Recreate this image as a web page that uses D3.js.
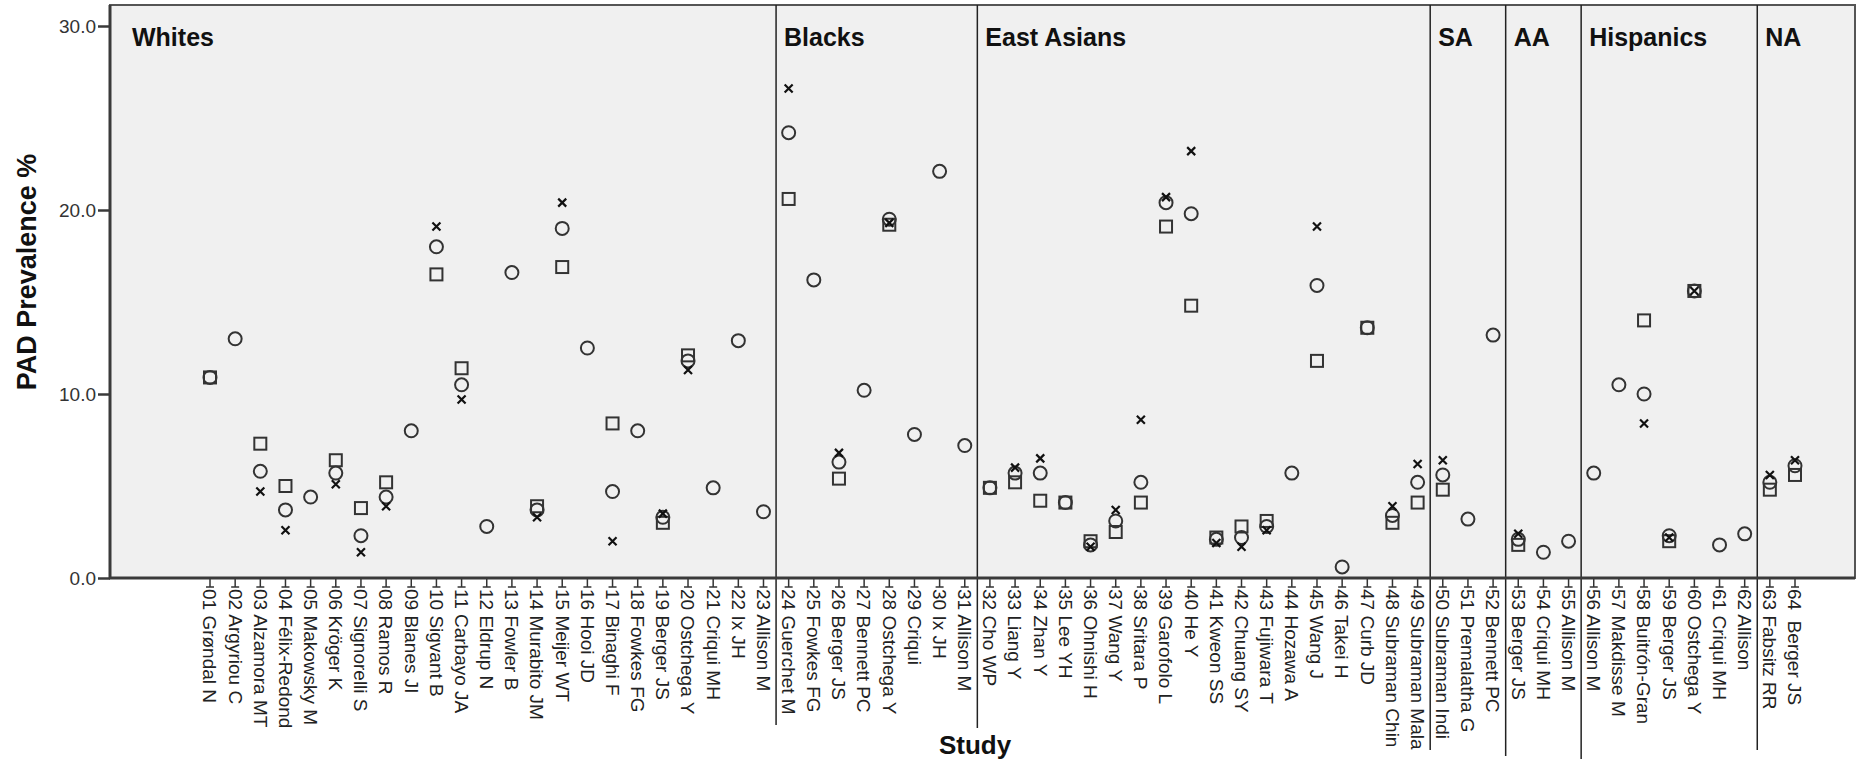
<!DOCTYPE html>
<html lang="en">
<head>
    <meta charset="UTF-8">
    <title>PAD Prevalence by Study</title>
    <script src="https://d3js.org/d3.v7.min.js"></script>
</head>

<style>
    body {
        margin: 0;
        padding: 0;
        background: #ffffff;
    }

    svg {
        display: block;
        font-family: "Liberation Sans", Arial, sans-serif;
    }
</style>

<body>
<div class="chart-container"></div>

<script>
  /** DATA */
  var studies = [
    '01 Grøndal N', '02 Argyriou C', '03 Alzamora MT', '04 Félix-Redond', '05 Makowsky M',
    '06 Kröger K', '07 Signorelli S', '08 Ramos R', '09 Blanes JI', '10 Sigvant B',
    '11 Carbayo JA', '12 Eldrup N', '13 Fowler B', '14 Murabito JM', '15 Meijer WT',
    '16 Hooi JD', '17 Binaghi F', '18 Fowkes FG', '19 Berger JS', '20 Ostchega Y',
    '21 Criqui MH', '22 Ix JH', '23 Allison M', '24 Guerchet M', '25 Fowkes FG',
    '26 Berger JS', '27 Bennett PC', '28 Ostchega Y', '29 Criqui', '30 Ix JH',
    '31 Allison M', '32 Cho WP', '33 Liang Y', '34 Zhan Y', '35 Lee YH',
    '36 Ohnishi H', '37 Wang Y', '38 Sritara P', '39 Garofolo L', '40 He Y',
    '41 Kweon SS', '42 Chuang SY', '43 Fujiwara T', '44 Hozawa A', '45 Wang J',
    '46 Takei H', '47 Curb JD', '48 Subraman Chin', '49 Subraman Mala', '50 Subraman Indi',
    '51 Premalatha G', '52 Bennett PC', '53 Berger JS', '54 Criqui MH', '55 Allison M',
    '56 Allison M', '57 Makdisse M', '58 Buitrón-Gran', '59 Berger JS', '60 Ostchega Y',
    '61 Criqui MH', '62 Allison', '63 Fabsitz RR', '64  Berger JS'
  ];

  /** panel groups: name and number of studies in each */
  var groupNames = ['Whites', 'Blacks', 'East Asians', 'SA', 'AA', 'Hispanics', 'NA'];
  var groupSizes = [23, 8, 18, 3, 3, 7, 2];

  var yTicks = [0, 10, 20, 30];

  /** three prevalence estimates per study (null = not reported) */
  var squareValues = [
    10.9, null, 7.3, 5.0, null, 6.4, 3.8, 5.2, null, 16.5,
    11.4, null, null, 3.9, 16.9, null, 8.4, null, 3.0, 12.1,
    null, null, null, 20.6, null, 5.4, null, 19.2, null, null,
    null, 4.9, 5.2, 4.2, 4.1, 2.0, 2.5, 4.1, 19.1, 14.8,
    2.2, 2.8, 3.1, null, 11.8, null, 13.6, 3.0, 4.1, 4.8,
    null, null, 1.8, null, null, null, null, 14.0, 2.0, 15.6,
    null, null, 4.8, 5.6
  ];
  var circleValues = [
    10.9, 13.0, 5.8, 3.7, 4.4, 5.7, 2.3, 4.4, 8.0, 18.0,
    10.5, 2.8, 16.6, 3.7, 19.0, 12.5, 4.7, 8.0, 3.3, 11.8,
    4.9, 12.9, 3.6, 24.2, 16.2, 6.3, 10.2, 19.5, 7.8, 22.1,
    7.2, 4.9, 5.7, 5.7, 4.1, 1.8, 3.1, 5.2, 20.4, 19.8,
    2.1, 2.2, 2.8, 5.7, 15.9, 0.6, 13.6, 3.4, 5.2, 5.6,
    3.2, 13.2, 2.1, 1.4, 2.0, 5.7, 10.5, 10.0, 2.3, 15.6,
    1.8, 2.4, 5.2, 6.1
  ];
  var crossValues = [
    null, null, 4.7, 2.6, null, 5.1, 1.4, 3.9, null, 19.1,
    9.7, null, null, 3.3, 20.4, null, 2.0, null, 3.5, 11.3,
    null, null, null, 26.6, null, 6.8, null, 19.3, null, null,
    null, null, 6.0, 6.5, null, 1.7, 3.7, 8.6, 20.7, 23.2,
    1.9, 1.7, 2.6, null, 19.1, null, null, 3.9, 6.2, 6.4,
    null, null, 2.4, null, null, null, null, 8.4, 2.2, 15.6,
    null, null, 5.6, 6.4
  ];

  /** LAYOUT */
  var width = 1865;
  var height = 763;
  var plotLeft = 110;
  var plotRight = 1855;
  var plotTop = 5;
  var plotBottom = 578;
  var markColor = '#333333';

  var svg_selection = d3.select('.chart-container')
    .append('svg')
    .attr('width', width)
    .attr('height', height);

  var xScale = d3.scalePoint()
    .domain(studies)
    .range([210, 1795]);

  var yScale = d3.scaleLinear()
    .domain([0, 30])
    .range([plotBottom, 26]);

  drawFrame();
  drawTickLabels();
  drawSeparators();
  drawMarks();
  drawAxisLines();
  drawTitles();

  /** FUNCTIONS **/
  function drawFrame() {
    svg_selection.append('rect')
      .attr('x', plotLeft)
      .attr('y', plotTop)
      .attr('width', plotRight - plotLeft)
      .attr('height', plotBottom - plotTop)
      .attr('fill', '#f0f0f0')
      .attr('stroke', '#555')
      .attr('stroke-width', 2);
  }

  function drawAxisLines() {
    /** y axis with d3 axis generator */
    var yAxis = d3.axisLeft(yScale)
      .tickValues(yTicks)
      .tickFormat(d3.format('.1f'))
      .tickSize(12)
      .tickPadding(2);

    var yAxis_selection = svg_selection.append('g')
      .attr('transform', 'translate(' + plotLeft + ',0)')
      .call(yAxis);
    yAxis_selection.select('.domain')
      .attr('d', 'M0,' + plotTop + 'V' + plotBottom)
      .attr('stroke', '#3a3a3a')
      .attr('stroke-width', 3);
    yAxis_selection.selectAll('.tick line')
      .attr('stroke', '#3a3a3a')
      .attr('stroke-width', 2.5);
    yAxis_selection.selectAll('.tick text')
      .attr('fill', '#333')
      .style('font-size', '19px');

    /** x axis baseline */
    svg_selection.append('line')
      .attr('x1', plotLeft - 1)
      .attr('x2', plotRight)
      .attr('y1', plotBottom)
      .attr('y2', plotBottom)
      .attr('stroke', '#3a3a3a')
      .attr('stroke-width', 3);
  }

  function drawTickLabels() {
    var tick_selection = svg_selection.append('g')
      .selectAll('g')
      .data(studies)
      .enter().append('g')
      .attr('transform', function (d) {
        return 'translate(' + xScale(d) + ',' + plotBottom + ')';
      });

    tick_selection.append('line')
      .attr('y1', 0)
      .attr('y2', 9)
      .attr('stroke', '#333')
      .attr('stroke-width', 1.5);
    tick_selection.append('line')
      .attr('x1', -4)
      .attr('x2', 4)
      .attr('y1', 9)
      .attr('y2', 9)
      .attr('stroke', '#333')
      .attr('stroke-width', 1.5);

    tick_selection.append('text')
      .attr('transform', 'translate(0,11) rotate(90)')
      .attr('dy', '0.35em')
      .attr('fill', '#222')
      .style('font-size', '19px')
      .style('white-space', 'pre')
      .text(function (d) { return d; });
  }

  function drawSeparators() {
    /** boundaries fall half way between last study of one group and first of the next */
    var step = xScale.step();
    var bottoms = [725, 728, 750, 756, 759, 750];
    var index = 0;
    var boundaries = [];
    groupSizes.forEach(function (size, g) {
      boundaries.push({ name: groupNames[g], left: index === 0 ? plotLeft : xScale(studies[index]) - step / 2 });
      index += size;
    });

    svg_selection.append('g')
      .selectAll('line')
      .data(boundaries.slice(1))
      .enter().append('line')
      .attr('x1', function (d) { return d.left; })
      .attr('x2', function (d) { return d.left; })
      .attr('y1', plotTop)
      .attr('y2', function (d, i) { return bottoms[i]; })
      .attr('stroke', '#222')
      .attr('stroke-width', 1.5);

    svg_selection.append('g')
      .selectAll('text')
      .data(boundaries)
      .enter().append('text')
      .attr('x', function (d, i) { return d.left + (i === 0 ? 22 : 8); })
      .attr('y', 46)
      .attr('fill', '#111')
      .style('font-size', '25px')
      .style('font-weight', 'bold')
      .text(function (d) { return d.name; });
  }

  function drawMarks() {
    var marks_selection = svg_selection.append('g')
      .attr('fill', 'none')
      .attr('stroke', markColor);

    function present(values) {
      return studies.map(function (s, i) { return { study: s, value: values[i] }; })
        .filter(function (d) { return d.value !== null; });
    }

    marks_selection.selectAll('rect')
      .data(present(squareValues))
      .enter().append('rect')
      .attr('x', function (d) { return xScale(d.study) - 6; })
      .attr('y', function (d) { return yScale(d.value) - 6; })
      .attr('width', 12)
      .attr('height', 12)
      .attr('stroke-width', 2);

    marks_selection.selectAll('circle')
      .data(present(circleValues))
      .enter().append('circle')
      .attr('cx', function (d) { return xScale(d.study); })
      .attr('cy', function (d) { return yScale(d.value); })
      .attr('r', 6.5)
      .attr('stroke-width', 2);

    marks_selection.selectAll('path')
      .data(present(crossValues))
      .enter().append('path')
      .attr('d', function (d) {
        var cx = xScale(d.study);
        var cy = yScale(d.value);
        var s = 4;
        return 'M' + (cx - s) + ',' + (cy - s) + 'L' + (cx + s) + ',' + (cy + s) +
          'M' + (cx - s) + ',' + (cy + s) + 'L' + (cx + s) + ',' + (cy - s);
      })
      .attr('stroke', '#111')
      .attr('stroke-width', 2.2);
  }

  function drawTitles() {
    svg_selection.append('text')
      .attr('transform', 'translate(36,' + 272 + ') rotate(-90)')
      .attr('text-anchor', 'middle')
      .attr('fill', '#111')
      .style('font-size', '27px')
      .style('font-weight', 'bold')
      .text('PAD Prevalence %');

    svg_selection.append('text')
      .attr('x', 975)
      .attr('y', 754)
      .attr('text-anchor', 'middle')
      .attr('fill', '#111')
      .style('font-size', '26px')
      .style('font-weight', 'bold')
      .text('Study');
  }
</script>
</body>
</html>
